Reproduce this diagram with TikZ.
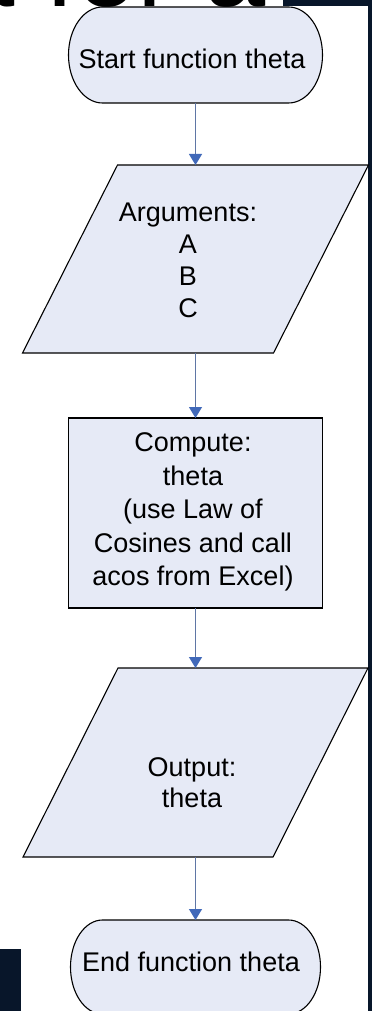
\documentclass[tikz,border=0pt]{standalone}
\usepackage{fontspec}
\setmainfont{Liberation Sans}
\usetikzlibrary{arrows.meta}
\definecolor{shapefill}{RGB}{230,234,246}
\definecolor{conncol}{RGB}{95,118,165}
\definecolor{arrowblue}{RGB}{65,105,185}
\definecolor{navy}{RGB}{8,22,42}
\begin{document}
\begin{tikzpicture}[x=1pt,y=-1pt,
  lbl/.style={font=\fontsize{27}{33.5}\selectfont, align=center, inner sep=0pt},
  shp/.style={draw=black, line width=1.1pt, fill=shapefill},
  conn/.style={draw=conncol, line width=1.2pt, -{Triangle[width=13pt,length=11pt,color=arrowblue]}},
  box/.style={inner sep=0pt, outer sep=0pt, draw=none}]
\useasboundingbox (0,0) rectangle (372,1011);
\fill[white] (0,0) rectangle (372,1011);

% dark frame pieces
\fill[navy] (368,0) rectangle (372,1011);
\fill[navy] (283,0) rectangle (372,6);
\fill[navy] (0,949) rectangle (21,1011);

% cut-off title text
\node[anchor=base east, font=\fontsize{110}{110}\selectfont, inner sep=0pt] (title) at (266,7) {a for a};

% invisible frames of the shapes
\node[box, minimum width=254pt, minimum height=96pt] (start) at (195.5,55) {};
\node[box, minimum width=346pt, minimum height=188pt] (args) at (195.5,259) {};
\node[box, minimum width=254pt, minimum height=190pt] (comp) at (195.5,513) {};
\node[box, minimum width=345pt, minimum height=189pt] (outp) at (195.5,762.5) {};
\node[box, minimum width=250pt, minimum height=94pt] (endt) at (195.5,967) {};

% shapes
\path[shp] ([xshift=34pt]start.north west) -- ([xshift=-34pt]start.north east)
  arc[start angle=90, end angle=-90, x radius=34pt, y radius=48pt]
  -- ([xshift=34pt]start.south west)
  arc[start angle=270, end angle=90, x radius=34pt, y radius=48pt] -- cycle;
\path[shp] ([xshift=95pt]args.north west) -- (args.north east)
  -- ([xshift=-95pt]args.south east) -- (args.south west) -- cycle;
\path[shp] (comp.north west) rectangle (comp.south east);
\path[shp] ([xshift=95pt]outp.north west) -- (outp.north east)
  -- ([xshift=-95pt]outp.south east) -- (outp.south west) -- cycle;
\path[shp] ([xshift=32pt]endt.north west) -- ([xshift=-32pt]endt.north east)
  arc[start angle=90, end angle=-90, x radius=32pt, y radius=47pt]
  -- ([xshift=32pt]endt.south west)
  arc[start angle=270, end angle=90, x radius=32pt, y radius=47pt] -- cycle;

% labels
\node[lbl] (startlbl) at (192,59) {Start function theta};
\node[lbl, font=\fontsize{27}{32}\selectfont] (argslbl) at (188,260) {Arguments:\\A\\B\\C};
\node[lbl] (complbl) at (193,512) {Compute:\\theta\\(use Law of\\Cosines and call\\acos from Excel)};
\node[lbl, font=\fontsize{27}{31}\selectfont] (outplbl) at (192,783) {Output:\\theta};
\node[lbl] (endlbl) at (191,962) {End function theta};

% connectors
\draw[conn] (start.south) -- (args.north);
\draw[conn] (args.south) -- (comp.north);
\draw[conn] (comp.south) -- (outp.north);
\draw[conn] (outp.south) -- (endt.north);
\end{tikzpicture}
\end{document}
